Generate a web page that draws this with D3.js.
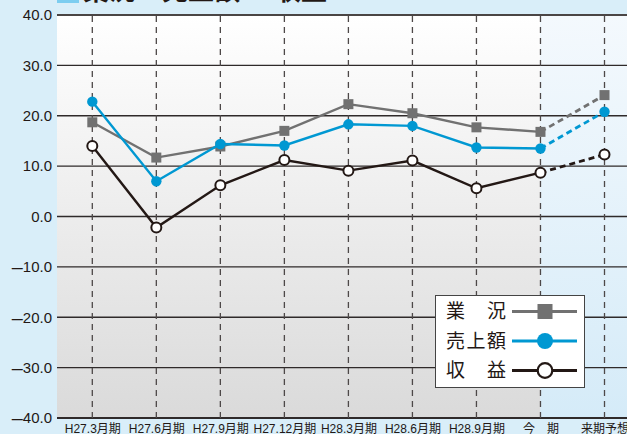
<!DOCTYPE html>
<html>
<head>
<meta charset="utf-8">
<script src="https://cdn.jsdelivr.net/npm/d3@7"></script>
<style>
  html, body { margin: 0; padding: 0; background: #d9eef9; }
  svg { display: block; }
</style>
</head>
<body>
<svg id="chart" width="627" height="434"></svg>
<script>
// Periods (last one is the forecast)
const categories = ["H27.3月期", "H27.6月期", "H27.9月期", "H27.12月期", "H28.3月期", "H28.6月期", "H28.9月期", "今　期", "来期予想"];
// DI values per series
const gyokyo  = [18.7, 11.7, 13.9, 17.0, 22.3, 20.5, 17.7, 16.8, 24.1];   // 業況
const uriage  = [22.8,  7.0, 14.4, 14.1, 18.3, 18.0, 13.7, 13.5, 20.8];   // 売上額
const shueki  = [14.0, -2.2,  6.2, 11.2,  9.1, 11.1,  5.6,  8.7, 12.3];   // 収益
const yTicks  = [40, 30, 20, 10, 0, -10, -20, -30, -40];
const seriesNames = ["業　況", "売上額", "収　益"];

const W = 627, H = 434;
const plotLeft = 57, plotTop = 15, plotBottom = 418;
const svg = d3.select("#chart");
const defs = svg.append("defs");

const x = d3.scalePoint().domain(categories).range([92.3, 604.5]);
const y = d3.scaleLinear().domain([-40, 40]).range([plotBottom, plotTop]);

// backgrounds
const gGray = defs.append("linearGradient").attr("id", "bgGray")
  .attr("x1", 0).attr("y1", 0).attr("x2", 0).attr("y2", 1);
gGray.append("stop").attr("offset", "0%").attr("stop-color", "#ffffff");
gGray.append("stop").attr("offset", "100%").attr("stop-color", "#dadada");
const gBlue = defs.append("linearGradient").attr("id", "bgBlue")
  .attr("x1", 0).attr("y1", 0).attr("x2", 0).attr("y2", 1);
gBlue.append("stop").attr("offset", "0%").attr("stop-color", "#f4f9fd");
gBlue.append("stop").attr("offset", "100%").attr("stop-color", "#d5ebf8");

const splitX = x("今　期");
svg.append("rect").attr("x", plotLeft).attr("y", y(40)).attr("width", splitX - plotLeft)
  .attr("height", y(-40) - y(40)).attr("fill", "url(#bgGray)");
svg.append("rect").attr("x", splitX).attr("y", y(40)).attr("width", W - splitX)
  .attr("height", y(-40) - y(40)).attr("fill", "url(#bgBlue)");

// title (partly above the top edge)
svg.append("rect").attr("x", 57).attr("y", -6).attr("width", 22).attr("height", 9).attr("fill", "#7ccdf0");
const titleParts = [["業況", 83], ["売上額", 162], ["収益", 275]];
svg.selectAll("text.title").data(titleParts).join("text")
  .attr("class", "title")
  .attr("x", d => d[1]).attr("y", 0)
  .attr("font-family", "Noto Sans CJK JP").attr("font-weight", "bold")
  .attr("font-size", 26).attr("fill", "#231815")
  .text(d => d[0]);

// horizontal grid
svg.append("g").selectAll("line").data(yTicks).join("line")
  .attr("x1", plotLeft).attr("x2", W)
  .attr("y1", d => y(d)).attr("y2", d => y(d))
  .attr("stroke", d => d === 40 ? "#4a4545" : "#2f2a2a")
  .attr("stroke-width", d => (d === 40 || d === -40) ? 2 : 1.3);

// vertical dashed lines
svg.append("g").selectAll("line").data(categories).join("line")
  .attr("x1", d => x(d)).attr("x2", d => x(d))
  .attr("y1", y(40) + 1).attr("y2", y(-40))
  .attr("stroke", "#4d4848").attr("stroke-width", 1.3)
  .attr("stroke-dasharray", "6,5");

// y axis labels (negative values get a heavy dash)
const yAxis = d3.axisLeft(y).tickValues(yTicks).tickSize(0).tickPadding(5)
  .tickFormat(d => Math.abs(d).toFixed(1));
const ya = svg.append("g").attr("transform", `translate(${plotLeft},0)`).call(yAxis);
ya.select(".domain").remove();
ya.selectAll("text").attr("font-family", "Liberation Sans, Arial, sans-serif")
  .attr("font-size", 15).attr("fill", "#231815")
  .each(function(d) {
    if (d < 0) {
      const t = d3.select(this);
      const num = t.text();
      t.text(null);
      t.append("tspan").attr("font-weight", "bold").attr("font-size", 11).text("\u2014");
      t.append("tspan").text(num);
    }
  });

// x axis labels
const xAxis = d3.axisBottom(x).tickSize(0).tickPadding(0);
const xa = svg.append("g").attr("transform", `translate(0,${plotBottom})`).call(xAxis);
xa.select(".domain").remove();
xa.selectAll("text").attr("font-family", "Liberation Sans, Noto Sans CJK JP, sans-serif")
  .attr("font-size", 12).attr("fill", "#231815")
  .attr("dy", null).attr("y", 15);

// series
const series = [
  { vals: gyokyo, color: "#717171", marker: "square" },
  { vals: uriage, color: "#0098d2", marker: "dot" },
  { vals: shueki, color: "#231815", marker: "ring" }
];
const line = d3.line().x(d => x(d.c)).y(d => y(d.v));

series.forEach(s => {
  const pts = s.vals.map((v, i) => ({ c: categories[i], v }));
  const g = svg.append("g");
  g.append("path").attr("d", line(pts.slice(0, 8)))
    .attr("fill", "none").attr("stroke", s.color).attr("stroke-width", 2.4);
  g.append("path").attr("d", line(pts.slice(7)))
    .attr("fill", "none").attr("stroke", s.color).attr("stroke-width", 2.8)
    .attr("stroke-dasharray", "6,4");
  if (s.marker === "square") {
    g.selectAll("rect").data(pts).join("rect")
      .attr("x", d => x(d.c) - 5).attr("y", d => y(d.v) - 5)
      .attr("width", 10).attr("height", 10).attr("fill", s.color);
  } else if (s.marker === "dot") {
    g.selectAll("circle").data(pts).join("circle")
      .attr("cx", d => x(d.c)).attr("cy", d => y(d.v)).attr("r", 5.2)
      .attr("fill", s.color);
  } else {
    g.selectAll("circle").data(pts).join("circle")
      .attr("cx", d => x(d.c)).attr("cy", d => y(d.v)).attr("r", 5)
      .attr("fill", "#ffffff").attr("stroke", s.color).attr("stroke-width", 2);
  }
});

// legend
const lg = svg.append("g");
lg.append("rect").attr("x", 435.5).attr("y", 295.5).attr("width", 149).attr("height", 92)
  .attr("fill", "#ffffff").attr("stroke", "#444").attr("stroke-width", 1);
const rowsY = [311.5, 341, 370.5];
series.forEach((s, i) => {
  const yy = rowsY[i];
  const name = seriesNames[i];
  lg.append("text").attr("x", 446).attr("y", yy).attr("dy", "0.36em")
    .attr("font-family", "Noto Sans CJK JP").attr("font-size", 19)
    .attr("textLength", 60).attr("lengthAdjust", "spacing")
    .attr("fill", "#231815").text(name);
  lg.append("line").attr("x1", 512).attr("x2", 577).attr("y1", yy).attr("y2", yy)
    .attr("stroke", s.color).attr("stroke-width", 3);
  if (s.marker === "square") {
    lg.append("rect").attr("x", 537.5).attr("y", yy - 7.5).attr("width", 15).attr("height", 15).attr("fill", s.color);
  } else if (s.marker === "dot") {
    lg.append("circle").attr("cx", 545).attr("cy", yy).attr("r", 8).attr("fill", s.color);
  } else {
    lg.append("circle").attr("cx", 545).attr("cy", yy).attr("r", 7.3)
      .attr("fill", "#fff").attr("stroke", s.color).attr("stroke-width", 2.2);
  }
});
</script>
</body>
</html>
